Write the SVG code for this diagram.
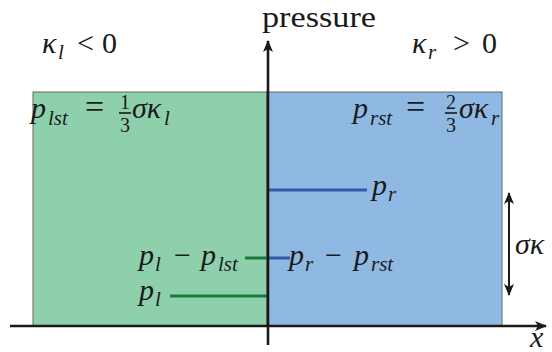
<svg xmlns="http://www.w3.org/2000/svg" width="552" height="352" viewBox="0 0 552 352">
<style>
.ax{stroke:#1a1a1a;stroke-width:2.6;fill:none}
.gl{stroke:#177a3c;stroke-width:3;fill:none}
.bl{stroke:#3657ad;stroke-width:3;fill:none}
.bar{stroke:#1a1a1a;stroke-width:1.6}
</style>
<defs>
<marker id="ah" viewBox="0 0 12 10" refX="11" refY="5" markerWidth="12" markerHeight="10" markerUnits="userSpaceOnUse" orient="auto-start-reverse">
<path d="M0,0 L12,5 L0,10 L3,5 Z" fill="#1a1a1a"/>
</marker>
</defs>
<g id="left-region">
<rect x="33" y="92" width="234" height="234" fill="#8fd0ac" stroke="#666" stroke-width="1"/>
</g>
<g id="right-region">
<rect x="267" y="92" width="235" height="234" fill="#8fb9e3" stroke="#666" stroke-width="1"/>
</g>
<g id="levels">
<line class="bl" x1="268" y1="190" x2="367" y2="190"/>
<line class="gl" x1="245" y1="258" x2="268" y2="258"/>
<line class="bl" x1="268" y1="258" x2="290" y2="258"/>
<line class="gl" x1="170" y1="296" x2="268" y2="296"/>
</g>
<g id="connectors">
<line class="ax" x1="10" y1="326" x2="546" y2="326" marker-end="url(#ah)"/>
<line class="ax" x1="268" y1="345" x2="268" y2="41" marker-end="url(#ah)"/>
<line stroke="#1a1a1a" stroke-width="2" x1="509" y1="193" x2="509" y2="295" marker-start="url(#ah)" marker-end="url(#ah)"/>
</g>
<g id="labels" fill="#1a1a1a" font-family="'Liberation Serif'">
<text font-family="'Liberation Serif'" font-size="30" x="262" y="27" textLength="114" lengthAdjust="spacingAndGlyphs">pressure</text>
<text font-family="'Liberation Serif'" font-size="30" font-style="italic" x="530" y="347">x</text>
<text font-family="'Liberation Serif'" font-size="30" x="42" y="53"><tspan font-style="italic">κ</tspan><tspan font-size="21" font-style="italic" x="58" dy="6">l</tspan><tspan x="77" dy="-6">&lt;</tspan><tspan x="102">0</tspan></text>
<text font-family="'Liberation Serif'" font-size="30" x="412" y="53"><tspan font-style="italic">κ</tspan><tspan font-size="21" font-style="italic" x="428" dy="6">r</tspan><tspan x="453" dy="-6">&gt;</tspan><tspan x="482">0</tspan></text>
<g id="p-lst">
<text font-family="'Liberation Serif'" font-size="30" x="31" y="118"><tspan font-style="italic">p</tspan><tspan font-size="21" font-style="italic" x="48" dy="7">lst</tspan><tspan font-size="34" x="85" dy="-7">=</tspan><tspan font-style="italic" x="132">σκ</tspan><tspan font-size="21" font-style="italic" x="164" dy="7">l</tspan></text>
<text font-family="'Liberation Serif'" font-size="20" x="125" y="109" text-anchor="middle">1</text>
<line class="bar" x1="119" y1="113" x2="131" y2="113"/>
<text font-family="'Liberation Serif'" font-size="20" x="125" y="132" text-anchor="middle">3</text>
</g>
<g id="p-rst">
<text font-family="'Liberation Serif'" font-size="30" x="353" y="118"><tspan font-style="italic">p</tspan><tspan font-size="21" font-style="italic" x="370" dy="7">rst</tspan><tspan font-size="34" x="406" dy="-7">=</tspan><tspan font-style="italic" x="459">σκ</tspan><tspan font-size="21" font-style="italic" x="491" dy="7">r</tspan></text>
<text font-family="'Liberation Serif'" font-size="20" x="451" y="109" text-anchor="middle">2</text>
<line class="bar" x1="445" y1="113" x2="457" y2="113"/>
<text font-family="'Liberation Serif'" font-size="20" x="451" y="132" text-anchor="middle">3</text>
</g>
<text font-family="'Liberation Serif'" font-size="30" x="372" y="195"><tspan font-style="italic">p</tspan><tspan font-size="21" font-style="italic" x="388" dy="6">r</tspan></text>
<text font-family="'Liberation Serif'" font-size="30" x="139" y="265"><tspan font-style="italic">p</tspan><tspan font-size="21" font-style="italic" x="155" dy="6">l</tspan><tspan x="174" dy="-6">−</tspan><tspan font-style="italic" x="201">p</tspan><tspan font-size="21" font-style="italic" x="218" dy="6">lst</tspan></text>
<text font-family="'Liberation Serif'" font-size="30" x="289" y="265"><tspan font-style="italic">p</tspan><tspan font-size="21" font-style="italic" x="305" dy="6">r</tspan><tspan x="325" dy="-6">−</tspan><tspan font-style="italic" x="354">p</tspan><tspan font-size="21" font-style="italic" x="371" dy="6">rst</tspan></text>
<text font-family="'Liberation Serif'" font-size="30" x="139" y="300"><tspan font-style="italic">p</tspan><tspan font-size="21" font-style="italic" x="155" dy="6">l</tspan></text>
<text font-family="'Liberation Serif'" font-size="30" font-style="italic" x="515" y="254">σκ</text>
</g>
</svg>
